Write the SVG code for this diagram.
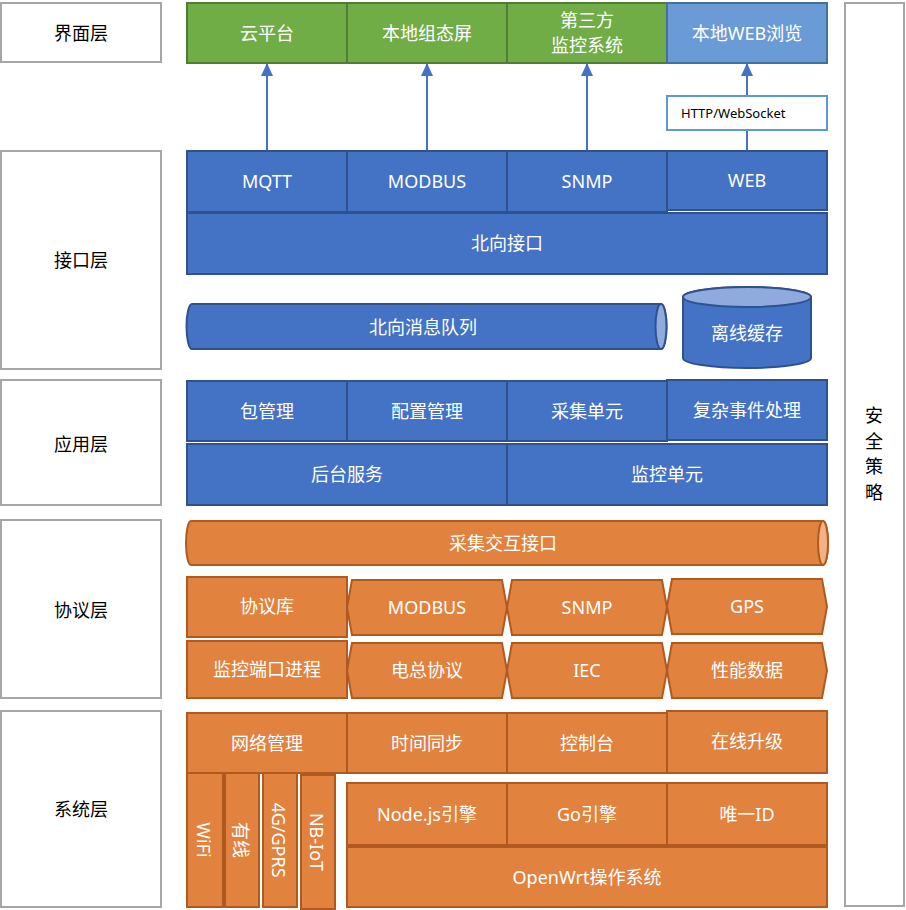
<svg xmlns="http://www.w3.org/2000/svg" width="906" height="910" viewBox="0 0 906 910">
<style>
.lay{fill:#fff;stroke:#a6a6a6;stroke-width:2}
.g{fill:#70ad47;stroke:#507e32;stroke-width:2}
.lb{fill:#6a9bd6;stroke:#41719c;stroke-width:2}
.b{fill:#4472c4;stroke:#2f528f;stroke-width:2}
.bl{fill:#8faadc;stroke:#2f528f;stroke-width:2}
.o{fill:#e1823f;stroke:#ae5a21;stroke-width:2}
.ol{fill:#f4b183;stroke:#ae5a21;stroke-width:2}
.w{fill:#fff;font-family:"Noto Sans","Noto Sans CJK SC",sans-serif;font-size:18px;text-anchor:middle;dominant-baseline:central}
.k{fill:#000;font-family:"Noto Sans CJK SC","Noto Sans",sans-serif;font-size:18px;text-anchor:middle;dominant-baseline:central}
.s{fill:#000;font-family:"Noto Sans","Noto Sans CJK SC",sans-serif;font-size:13px;dominant-baseline:central}
.c{fill:none;stroke:#4472c4;stroke-width:2}
</style>
<defs>
<marker id="ah" markerUnits="userSpaceOnUse" markerWidth="13" markerHeight="12" viewBox="0 0 13 12" refX="12" refY="6" orient="auto">
<path d="M0 0 L13 6 L0 12 Z" fill="#4472c4"/>
</marker>
</defs>

<g id="layers">
<g id="l-ui"><rect class="lay" x="1" y="3" width="160" height="59"/><text class="k" x="81" y="32">界面层</text></g>
<g id="l-if"><rect class="lay" x="1" y="151" width="160" height="218"/><text class="k" x="81" y="259">接口层</text></g>
<g id="l-app"><rect class="lay" x="1" y="380" width="160" height="125"/><text class="k" x="81" y="443">应用层</text></g>
<g id="l-proto"><rect class="lay" x="1" y="520" width="160" height="178"/><text class="k" x="81" y="609">协议层</text></g>
<g id="l-sys"><rect class="lay" x="1" y="711" width="160" height="196"/><text class="k" x="81" y="808">系统层</text></g>
<g id="security"><rect class="lay" x="845" y="3" width="59" height="903"/>
<text class="k" x="874" y="414">安</text><text class="k" x="874" y="439.5">全</text><text class="k" x="874" y="465">策</text><text class="k" x="874" y="490.5">略</text></g>
</g>

<g id="connectors">
<line class="c" x1="267" y1="151" x2="267" y2="64" marker-end="url(#ah)"/>
<line class="c" x1="427" y1="151" x2="427" y2="64" marker-end="url(#ah)"/>
<line class="c" x1="587" y1="151" x2="587" y2="64" marker-end="url(#ah)"/>
<line class="c" x1="747" y1="151" x2="747" y2="64" marker-end="url(#ah)"/>
</g>

<g id="ui">
<g id="cloud"><rect class="g" x="187" y="3" width="160" height="60"/><text class="w" x="267" y="33">云平台</text></g>
<g id="local-screen"><rect class="g" x="347" y="3" width="160" height="60"/><text class="w" x="427" y="33">本地组态屏</text></g>
<g id="third"><rect class="g" x="507" y="3" width="160" height="60"/><text class="w" x="587" y="20">第三方</text><text class="w" x="587" y="45">监控系统</text></g>
<g id="web-browse"><rect class="lb" x="667" y="3" width="160" height="60"/><text class="w" x="747" y="33">本地WEB浏览</text></g>
</g>

<g id="http"><rect x="667" y="96" width="160" height="34" fill="#fff" stroke="#5b9bd5" stroke-width="2"/><text class="s" x="681" y="113">HTTP/WebSocket</text></g>

<g id="interface">
<g id="mqtt"><rect class="b" x="187" y="151" width="160" height="61"/><text class="w" x="267" y="181">MQTT</text></g>
<g id="modbus-n"><rect class="b" x="347" y="151" width="160" height="61"/><text class="w" x="427" y="181">MODBUS</text></g>
<g id="snmp-n"><rect class="b" x="507" y="151" width="160" height="61"/><text class="w" x="587" y="181">SNMP</text></g>
<g id="web"><rect class="b" x="667" y="151" width="160" height="59"/><text class="w" x="747" y="180">WEB</text></g>
<g id="north"><rect class="b" x="187" y="213" width="640" height="61"/><text class="w" x="507" y="243">北向接口</text></g>
</g>

<g id="queue">
<path class="b" d="M192 304 L661 304 A5.5 22.5 0 0 1 661 349 L192 349 A5.5 22.5 0 0 1 192 304 Z"/>
<ellipse class="bl" cx="661" cy="326.5" rx="5.5" ry="22.5"/>
<text class="w" x="423" y="327">北向消息队列</text>
</g>
<g id="cache">
<path class="b" d="M683 297 L683 358 A64 10 0 0 0 811 358 L811 297 A64 10 0 0 0 683 297 Z"/>
<ellipse class="bl" cx="747" cy="297" rx="64" ry="10"/>
<text class="w" x="747" y="333">离线缓存</text>
</g>

<g id="app">
<g id="pkg"><rect class="b" x="187" y="381" width="160" height="60"/><text class="w" x="267" y="411">包管理</text></g>
<g id="cfg"><rect class="b" x="347" y="381" width="160" height="60"/><text class="w" x="427" y="411">配置管理</text></g>
<g id="collect"><rect class="b" x="507" y="381" width="160" height="60"/><text class="w" x="587" y="411">采集单元</text></g>
<g id="cep"><rect class="b" x="667" y="380" width="160" height="60"/><text class="w" x="747" y="410">复杂事件处理</text></g>
<g id="backend"><rect class="b" x="187" y="444" width="320" height="61"/><text class="w" x="347" y="474">后台服务</text></g>
<g id="monitor"><rect class="b" x="507" y="444" width="320" height="61"/><text class="w" x="667" y="474">监控单元</text></g>
</g>

<g id="collect-if">
<path class="o" d="M191 521 L823 521 A5 22 0 0 1 823 565 L191 565 A5 22 0 0 1 191 521 Z"/>
<ellipse class="ol" cx="823" cy="543" rx="5" ry="22"/>
<text class="w" x="503" y="543">采集交互接口</text>
</g>

<g id="protocol">
<g id="protolib"><rect class="o" x="187" y="577" width="160" height="60"/><text class="w" x="267" y="606">协议库</text></g>
<g id="p-modbus"><path class="o" d="M352 580 L502 580 L507 607.5 L502 635 L352 635 L347 607.5 Z"/><text class="w" x="427" y="607">MODBUS</text></g>
<g id="p-snmp"><path class="o" d="M512 580 L662 580 L667 607.5 L662 635 L512 635 L507 607.5 Z"/><text class="w" x="587" y="607">SNMP</text></g>
<g id="p-gps"><path class="o" d="M672 579 L822 579 L827 606.5 L822 634 L672 634 L667 606.5 Z"/><text class="w" x="747" y="606">GPS</text></g>
<g id="portproc"><rect class="o" x="187" y="641" width="160" height="57"/><text class="w" x="267" y="669">监控端口进程</text></g>
<g id="p-dz"><path class="o" d="M352 643 L502 643 L507 670.5 L502 698 L352 698 L347 670.5 Z"/><text class="w" x="427" y="670">电总协议</text></g>
<g id="p-iec"><path class="o" d="M512 643 L662 643 L667 670.5 L662 698 L512 698 L507 670.5 Z"/><text class="w" x="587" y="670">IEC</text></g>
<g id="p-perf"><path class="o" d="M672 643 L822 643 L827 670.5 L822 698 L672 698 L667 670.5 Z"/><text class="w" x="747" y="670">性能数据</text></g>
</g>

<g id="system">
<g id="netmgr"><rect class="o" x="187" y="713" width="160" height="60"/><text class="w" x="267" y="743">网络管理</text></g>
<g id="timesync"><rect class="o" x="347" y="713" width="160" height="60"/><text class="w" x="427" y="743">时间同步</text></g>
<g id="console"><rect class="o" x="507" y="713" width="160" height="60"/><text class="w" x="587" y="743">控制台</text></g>
<g id="upgrade"><rect class="o" x="667" y="711" width="160" height="62"/><text class="w" x="747" y="741">在线升级</text></g>
<g id="wifi"><rect class="o" x="187" y="773" width="36" height="134"/><text class="w" transform="translate(204 840) rotate(90)">WiFi</text></g>
<g id="wired"><rect class="o" x="225" y="773" width="34" height="134"/><text class="w" transform="translate(241 840) rotate(90)">有线</text></g>
<g id="g4"><rect class="o" x="263" y="773" width="34" height="134"/><text class="w" transform="translate(279 840) rotate(90)">4G/GPRS</text></g>
<g id="nbiot"><rect class="o" x="301" y="775" width="34" height="134"/><text class="w" transform="translate(317 842) rotate(90)">NB-IoT</text></g>
<g id="nodejs"><rect class="o" x="347" y="783" width="160" height="62"/><text class="w" x="427" y="814">Node.js引擎</text></g>
<g id="go"><rect class="o" x="507" y="783" width="160" height="62"/><text class="w" x="587" y="814">Go引擎</text></g>
<g id="uid"><rect class="o" x="667" y="783" width="160" height="62"/><text class="w" x="747" y="814">唯一ID</text></g>
<g id="openwrt"><rect class="o" x="347" y="847" width="480" height="60"/><text class="w" x="587" y="877">OpenWrt操作系统</text></g>
</g>
</svg>
